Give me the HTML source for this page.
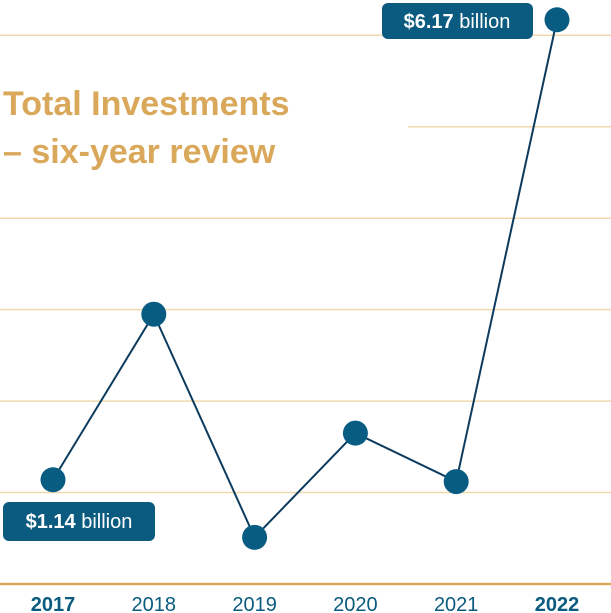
<!DOCTYPE html>
<html><head><meta charset="utf-8"><style>
body{margin:0;background:#fff;}
svg{display:block;font-family:"Liberation Sans",sans-serif;}
</style></head><body>
<svg id="chart" width="611" height="613" viewBox="0 0 611 613" xmlns="http://www.w3.org/2000/svg">
<g id="grid"></g>
<text x="3" y="115" font-size="34" font-weight="bold" fill="#d9a85a">Total Investments</text>
<text x="3" y="163" font-size="34" font-weight="bold" fill="#d9a85a">– six-year review</text>
<g id="series"></g>
<g id="xaxis"></g>
<g>
<rect x="382" y="3" width="151" height="36" rx="6" fill="#0b5b80"/>
<text x="457" y="28" font-size="20" fill="#fff" text-anchor="middle"><tspan font-weight="bold">$6.17</tspan> billion</text>
</g>
<g>
<rect x="3" y="502" width="152" height="39" rx="6" fill="#0b5b80"/>
<text x="79" y="528" font-size="20" fill="#fff" text-anchor="middle"><tspan font-weight="bold">$1.14</tspan> billion</text>
</g>
</svg>
<script>
const years=["2017","2018","2019","2020","2021","2022"];
const values=[1.14,2.95,0.51,1.65,1.12,6.17];
const gridValues=[1,2,3,4,5,6];
const boldYears=["2017","2022"];
const NS="http://www.w3.org/2000/svg";
const x=i=>53+i*100.8;
const y=v=>584-v*91.45;
const g=document.getElementById('grid'),s=document.getElementById('series'),xa=document.getElementById('xaxis');
function mk(tag,attrs,parent){const e=document.createElementNS(NS,tag);for(const k in attrs)e.setAttribute(k,attrs[k]);parent.appendChild(e);return e;}
gridValues.forEach(v=>{
  const l=mk('line',{x1:v===5?408:0,x2:611,y1:y(v),y2:y(v),stroke:'#f0d9ad','stroke-width':1.5},g);
  
  
});
const base=mk('line',{x1:0,x2:611,y1:y(0),y2:y(0),stroke:'#d9a85a','stroke-width':2.5},g);


const pl=mk('polyline',{points:values.map((v,i)=>x(i)+','+y(v)).join(' '),fill:'none',stroke:'#0d3b5e','stroke-width':2},s);


values.forEach((v,i)=>{
  const c=mk('circle',{cx:x(i),cy:y(v),r:12.5,fill:'#085c82'},s);
  
  
});
years.forEach((yr,i)=>{
  const t=mk('text',{x:x(i),y:611,'font-size':20,'text-anchor':'middle',fill:'#0b5b80','font-weight':boldYears.includes(yr)?'bold':'normal'},xa);
  t.textContent=yr;
  
  
});
</script>
</body></html>
